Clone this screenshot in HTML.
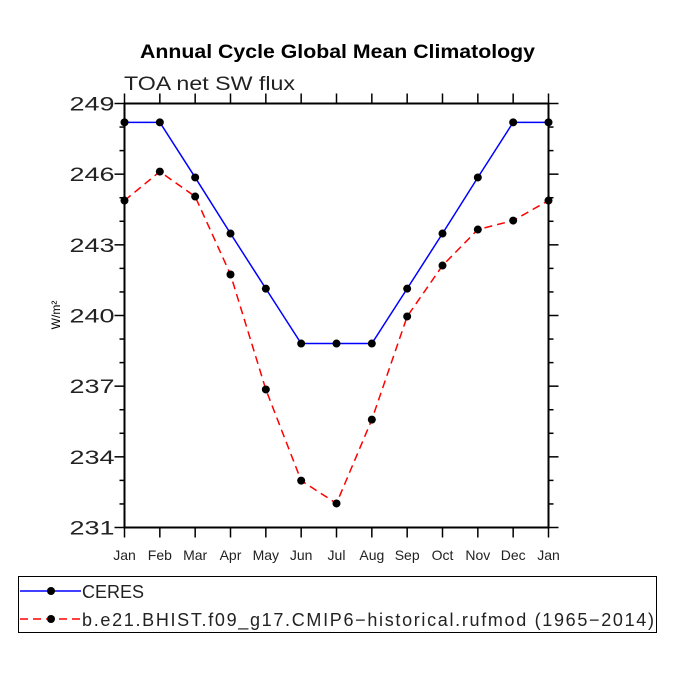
<!DOCTYPE html>
<html><head><meta charset="utf-8"><style>
body{margin:0;background:#fff;}
svg text{font-family:"Liberation Sans",sans-serif;}
</style></head><body>
<svg id="chart" width="675" height="675" xmlns="http://www.w3.org/2000/svg">
<text x="140" y="58" font-size="19" font-weight="bold" textLength="395" lengthAdjust="spacingAndGlyphs">Annual Cycle Global Mean Climatology</text>
<text x="124" y="90" font-size="19" fill="#222" textLength="171" lengthAdjust="spacingAndGlyphs">TOA net SW flux</text>
<text transform="translate(60,315) rotate(-90)" text-anchor="middle" font-size="12">W/m²</text>
<g id="axes"></g>
<g id="series"></g>
<g>
<rect x="18.5" y="576.5" width="638" height="56" fill="none" stroke="#000" stroke-width="1"/>
<line x1="20" y1="591" x2="81" y2="591" stroke="#00f" stroke-width="1.5"/>
<circle cx="51" cy="591" r="4" fill="#000"/>
<text x="82" y="598" font-size="18" fill="#222">CERES</text>
<line x1="20" y1="619" x2="81" y2="619" stroke="#f00" stroke-width="1.5" stroke-dasharray="8,5"/>
<circle cx="51" cy="619" r="4" fill="#000"/>
<text x="82" y="626" font-size="18" fill="#222" textLength="572">b.e21.BHIST.f09_g17.CMIP6−historical.rufmod (1965−2014)</text>
</g>
</svg>
<script>
const months=["Jan","Feb","Mar","Apr","May","Jun","Jul","Aug","Sep","Oct","Nov","Dec","Jan"];
const ceres=[248.2,248.2,245.86,243.48,241.14,238.81,238.81,238.81,241.14,243.48,245.86,248.2,248.2];
const model=[244.88,246.11,245.05,241.74,236.86,232.99,232.02,235.58,239.96,242.12,243.65,244.03,244.88];
const yTicks=[231,234,237,240,243,246,249];
const X0=124.5,X1=548.5,Y0=527.5,Y1=103.5,YMIN=231,YMAX=249;
const sx=i=>X0+(X1-X0)*i/(months.length-1);
const sy=v=>Y0-(Y0-Y1)*(v-YMIN)/(YMAX-YMIN);
const NS="http://www.w3.org/2000/svg";
const ax=document.getElementById('axes'),se=document.getElementById('series');
function mk(tag,attrs,parent){const e=document.createElementNS(NS,tag);for(const k in attrs)e.setAttribute(k,attrs[k]);parent.appendChild(e);return e;}
const frame=mk('rect',{x:X0,y:Y1,width:X1-X0,height:Y0-Y1,fill:'none',stroke:'#000','stroke-width':2},ax);


for(let v=YMIN;v<=YMAX;v++){
  const major=yTicks.includes(v);const L=major?10:5;const y=sy(v);
  mk('line',{x1:X0-L,y1:y,x2:X0,y2:y,stroke:'#000','stroke-width':1.5},ax);
  mk('line',{x1:X1,y1:y,x2:X1+L,y2:y,stroke:'#000','stroke-width':1.5},ax);
  if(major){const t=mk('text',{x:X0-10,y:y+7,'text-anchor':'end','font-size':19,fill:'#222',textLength:45,lengthAdjust:'spacingAndGlyphs'},ax);t.textContent=v;
  
  }
}
months.forEach((m,i)=>{const x=sx(i);
  mk('line',{x1:x,y1:Y0,x2:x,y2:Y0+10,stroke:'#000','stroke-width':1.5},ax);
  mk('line',{x1:x,y1:Y1-10,x2:x,y2:Y1,stroke:'#000','stroke-width':1.5},ax);
  const t=mk('text',{x:x,y:560,'text-anchor':'middle','font-size':14,fill:'#222'},ax);t.textContent=m;
  
  
});
function draw(vals,color,dash,name){
  const p=mk('polyline',{points:vals.map((v,i)=>sx(i)+','+sy(v)).join(' '),fill:'none',stroke:color,'stroke-width':1.5,'stroke-dasharray':dash},se);
  
  
  vals.forEach((v,i)=>{const c=mk('circle',{cx:sx(i),cy:sy(v),r:4,fill:'#000'},se);
    
    });
}
draw(ceres,'#00f','none','ceres');
draw(model,'#f00','8,5','model');
</script>
</body></html>
